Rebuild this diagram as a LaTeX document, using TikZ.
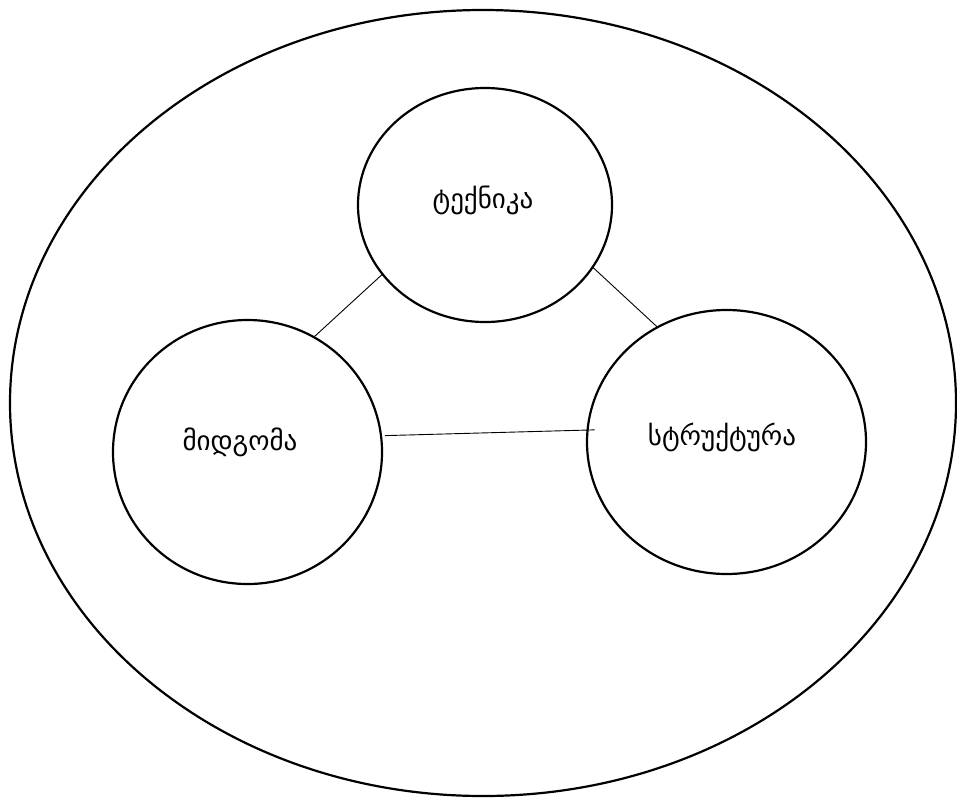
\documentclass[tikz,border=0pt]{standalone}
\usepackage{fontspec}
\newfontfamily\geo{DejaVu Sans}
\usetikzlibrary{shapes.geometric}
\begin{document}
\begin{tikzpicture}[x=1pt,y=-1pt,
  circ/.style={draw, ellipse, line width=2.2pt, inner sep=0pt, outer sep=0pt},
  link/.style={draw, line width=0.9pt},
  lbl/.style={font=\geo\fontsize{27}{30}\selectfont, inner sep=0pt}]
\useasboundingbox (0,0) rectangle (957,798);
\node[circ, minimum width=946pt, minimum height=786pt] (outer) at (483,403) {};
\node[circ, minimum width=254pt, minimum height=234pt] (top) at (485,205) {};
\node[circ, minimum width=269pt, minimum height=264pt] (left) at (247.5,452) {};
\node[circ, minimum width=279pt, minimum height=264pt] (right) at (726.5,442) {};
\node[lbl] (ttop) at (483,200) {ტექნიკა};
\node[lbl] (tleft) at (240,442) {მიდგომა};
\node[lbl] (tright) at (722,437) {სტრუქტურა};
\draw[link] (top.214) -- (left.60);
\draw[link] (top.330) -- (right.121);
\draw[link] ([xshift=4pt]left.7.4) -- ([xshift=7pt]right.175.7);
\end{tikzpicture}
\end{document}
